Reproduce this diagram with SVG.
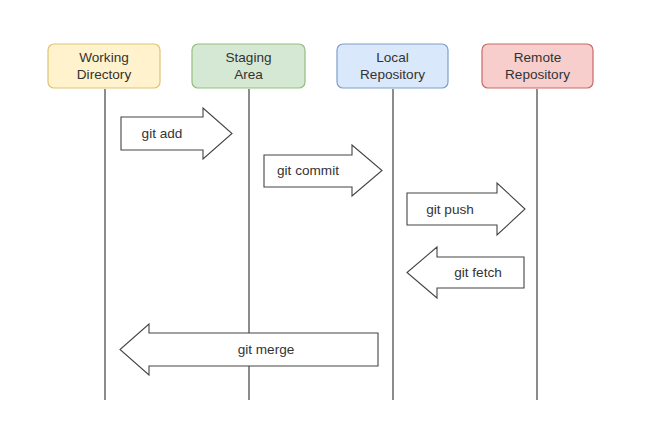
<svg xmlns="http://www.w3.org/2000/svg" width="645" height="443" viewBox="0 0 645 443">
<style>
.box{stroke-width:1.2}
.t{font-family:"Liberation Sans",Arial,sans-serif;font-size:13.6px;fill:#333;text-anchor:middle}
.life{stroke:#666;stroke-width:1.5;fill:none}
.arr{fill:#fff;stroke:#444;stroke-width:1.1}
</style>
<rect width="645" height="443" fill="#fff"/>
<g id="connectors">
<line class="life" x1="105" y1="89" x2="105" y2="400"/>
<line class="life" x1="249" y1="89" x2="249" y2="400"/>
<line class="life" x1="393" y1="89" x2="393" y2="400"/>
<line class="life" x1="537" y1="89" x2="537" y2="400"/>
</g>
<g id="working-directory">
<rect class="box" x="48" y="44" width="112" height="44" rx="6" fill="#fff2cc" stroke="#e0c472"/>
<text class="t" x="104" y="62">Working</text>
<text class="t" x="104" y="79">Directory</text>
</g>
<g id="staging-area">
<rect class="box" x="192" y="44" width="113" height="44" rx="6" fill="#d5e8d4" stroke="#93bd7c"/>
<text class="t" x="248.5" y="62">Staging</text>
<text class="t" x="248.5" y="79">Area</text>
</g>
<g id="local-repository">
<rect class="box" x="337" y="44" width="111" height="44" rx="6" fill="#dae8fc" stroke="#7f9fcc"/>
<text class="t" x="392.5" y="62">Local</text>
<text class="t" x="392.5" y="79">Repository</text>
</g>
<g id="remote-repository">
<rect class="box" x="482" y="44" width="111" height="44" rx="6" fill="#f8cecc" stroke="#c86a66"/>
<text class="t" x="537.5" y="62">Remote</text>
<text class="t" x="537.5" y="79">Repository</text>
</g>
<g id="git-add">
<polygon class="arr" points="121,117 203,117 203,108 232,133.5 203,159 203,150 121,150"/>
<text class="t" x="162" y="138">git add</text>
</g>
<g id="git-commit">
<polygon class="arr" points="264,155 352,155 352,145 382,170.5 352,196 352,187 264,187"/>
<text class="t" x="308" y="175">git commit</text>
</g>
<g id="git-push">
<polygon class="arr" points="407,193 497,193 497,183 525,209 497,235 497,225 407,225"/>
<text class="t" x="450" y="214">git push</text>
</g>
<g id="git-fetch">
<polygon class="arr" points="524,257 437,257 437,247 407,272.5 437,298 437,288 524,288"/>
<text class="t" x="478" y="277">git fetch</text>
</g>
<g id="git-merge">
<polygon class="arr" points="378,333 149,333 149,324 120,349.5 149,375 149,366 378,366"/>
<text class="t" x="266" y="354">git merge</text>
</g>
</svg>
